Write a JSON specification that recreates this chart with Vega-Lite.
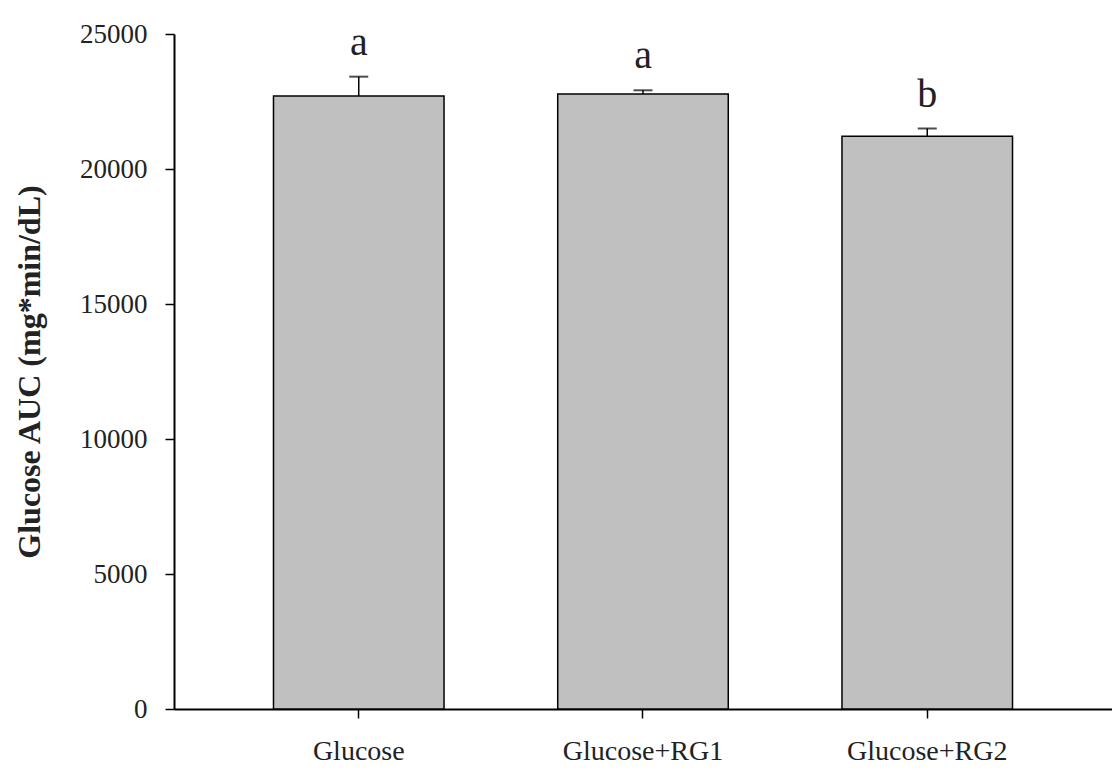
{
  "$schema": "https://vega.github.io/schema/vega-lite/v6.json",
  "autosize": "none",
  "width": 938,
  "height": 675,
  "padding": {"left": 174, "top": 34, "right": 0, "bottom": 66},
  "background": "white",
  "config": {"view": {"stroke": null}, "font": "Liberation Serif"},
  "data": {
    "values": [
      {"group": "Glucose", "value": 22700, "upper": 23420, "label": "a"},
      {"group": "Glucose+RG1", "value": 22780, "upper": 22915, "label": "a"},
      {"group": "Glucose+RG2", "value": 21210, "upper": 21500, "label": "b"}
    ]
  },
  "encoding": {
    "x": {
      "field": "group",
      "type": "nominal",
      "sort": null,
      "scale": {"paddingInner": 0.4, "paddingOuter": 0.35},
      "axis": {
        "title": null,
        "labelAngle": 0,
        "labelFont": "Liberation Serif",
        "labelFontSize": 28,
        "labelColor": "#222",
        "labelPadding": 19,
        "tickSize": 9,
        "tickColor": "#000",
        "tickWidth": 1.5,
        "domainColor": "#000",
        "domainWidth": 2
      }
    }
  },
  "layer": [
    {
      "mark": {"type": "bar", "fill": "#c0c0c0", "stroke": "#000", "strokeWidth": 1.5},
      "encoding": {
        "y": {
          "field": "value",
          "type": "quantitative",
          "scale": {"domain": [0, 25000], "nice": false},
          "axis": {
            "title": "Glucose AUC (mg*min/dL)",
            "titleFont": "Liberation Serif",
            "titleFontSize": 32,
            "titleFontWeight": "bold",
            "titleColor": "#222",
            "titlePadding": 33,
            "values": [0, 5000, 10000, 15000, 20000, 25000],
            "format": "d",
            "grid": false,
            "labelFont": "Liberation Serif",
            "labelFontSize": 27,
            "labelColor": "#222",
            "labelPadding": 18,
            "tickSize": 9,
            "tickColor": "#000",
            "tickWidth": 1.5,
            "domainColor": "#000",
            "domainWidth": 2
          }
        }
      }
    },
    {
      "mark": {"type": "rule", "stroke": "#000", "strokeWidth": 1.5},
      "encoding": {
        "y": {"field": "value", "type": "quantitative", "scale": {"domain": [0, 25000], "nice": false}},
        "y2": {"field": "upper"}
      }
    },
    {
      "mark": {"type": "tick", "color": "#000", "size": 19, "thickness": 2},
      "encoding": {
        "y": {"field": "upper", "type": "quantitative", "scale": {"domain": [0, 25000], "nice": false}}
      }
    },
    {
      "mark": {"type": "text", "font": "Liberation Serif", "fontSize": 40, "baseline": "alphabetic", "dy": -22, "color": "#222"},
      "encoding": {
        "y": {"field": "upper", "type": "quantitative", "scale": {"domain": [0, 25000], "nice": false}},
        "text": {"field": "label"}
      }
    }
  ]
}
